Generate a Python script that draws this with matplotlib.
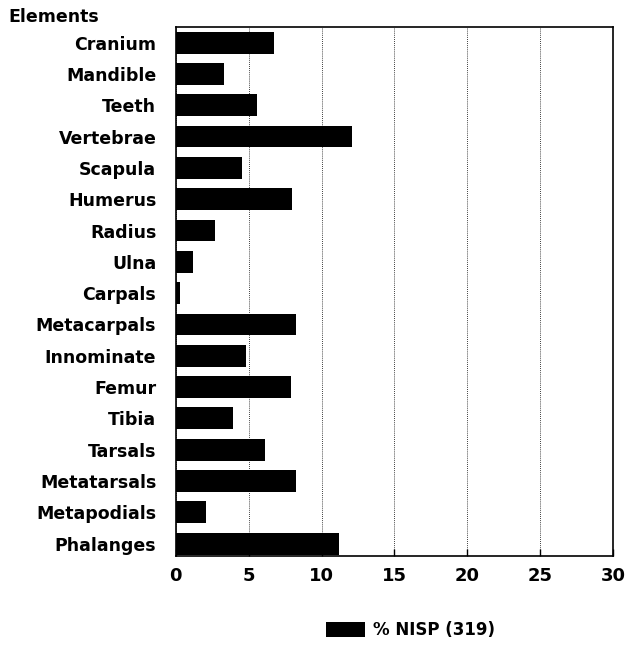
import matplotlib.pyplot as plt
from matplotlib.patches import Patch

plt.rcParams['font.family'] = ['DejaVu Sans']
plt.rcParams['font.weight'] = 'bold'

elements = ["Cranium", "Mandible", "Teeth", "Vertebrae", "Scapula", "Humerus",
            "Radius", "Ulna", "Carpals", "Metacarpals", "Innominate", "Femur",
            "Tibia", "Tarsals", "Metatarsals", "Metapodials", "Phalanges"]
nisp_pct = [6.76, 3.33, 5.55, 12.1, 4.57, 7.95, 2.69, 1.19, 0.3, 8.22,
            4.84, 7.92, 3.9, 6.12, 8.22, 2.05, 11.2]
xticks = [0, 5, 10, 15, 20, 25, 30]

fig = plt.figure(figsize=(6.3, 6.56), dpi=100)
ax = fig.add_axes([0.279, 0.152, 0.694, 0.807])

pos = list(range(len(elements)))
ax.barh(pos, nisp_pct, height=0.7, color='black', zorder=3)

ax.set_xlim(0, 30)
ax.set_ylim(16.4, -0.5)
ax.set_xticks(xticks)
ax.set_xticklabels([str(t) for t in xticks], fontsize=13, fontweight='bold')
ax.set_yticks(pos)
ax.set_yticklabels(elements, fontsize=12.5, fontweight='bold')
ax.tick_params(axis='y', length=0, pad=14)
ax.tick_params(axis='x', direction='in', length=5, pad=8, width=1)
ax.grid(axis='x', linestyle=(0, (1, 1.5)), color='black', linewidth=0.6, zorder=0)
for s in ax.spines.values():
    s.set_linewidth(1.2)

fig.text(0.014, 0.974, "Elements", fontsize=12.5, fontweight='bold', ha='left', va='center')

fig.legend(handles=[Patch(facecolor='black', label='% NISP (319)')],
           loc='center', bbox_to_anchor=(0.652, 0.04), frameon=False,
           fontsize=12, handlelength=2.3, handleheight=1.0, handletextpad=0.5)

fig.savefig("out.png", dpi=100)
